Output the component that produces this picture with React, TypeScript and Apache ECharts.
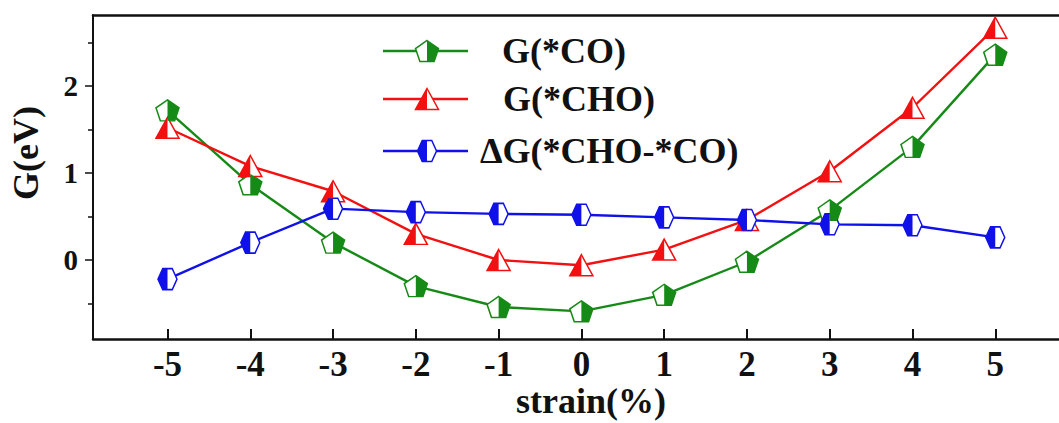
import React, { useEffect, useRef } from "react";
import * as echarts from "echarts";

const strain = [-5, -4, -3, -2, -1, 0, 1, 2, 3, 4, 5];
const gCO = [1.72, 0.87, 0.2, -0.3, -0.54, -0.59, -0.4, -0.02, 0.57, 1.3, 2.36];
const gCHO = [1.52, 1.08, 0.79, 0.3, 0.0, -0.06, 0.12, 0.46, 1.02, 1.75, 2.67];
const dG = [-0.22, 0.2, 0.59, 0.55, 0.53, 0.52, 0.49, 0.46, 0.41, 0.4, 0.26];

const majorY = [0, 1, 2];
const minorY = [-0.5, 0.5, 1.5, 2.5];
const xTicks = [-5, -4, -3, -2, -1, 0, 1, 2, 3, 4, 5];

const seriesNames = ["G(*CO)", "G(*CHO)", "\u0394G(*CHO-*CO)"];

type Pt = [number, number];
const pentFull: Pt[] = [[0, -1], [0.951, -0.309], [0.588, 0.809], [-0.588, 0.809], [-0.951, -0.309]];
const pentRight: Pt[] = [[0, -1], [0.951, -0.309], [0.588, 0.809], [0, 0.809]];
const triFull: Pt[] = [[0, -1], [1, 1], [-1, 1]];
const triLeft: Pt[] = [[0, -1], [0, 1], [-1, 1]];
const hexFull: Pt[] = [[-1, 0], [-0.5, -0.866], [0.5, -0.866], [1, 0], [0.5, 0.866], [-0.5, 0.866]];
const hexLeft: Pt[] = [[-1, 0], [-0.5, -0.866], [0, -0.866], [0, 0.866], [-0.5, 0.866]];

function bbox(s: Pt[]) {
  const xs = s.map((p) => p[0]);
  const ys = s.map((p) => p[1]);
  return { x0: Math.min(...xs), x1: Math.max(...xs), y0: Math.min(...ys), y1: Math.max(...ys) };
}
function toPath(s: Pt[]) {
  return (
    "path://" +
    s.map((p, i) => (i === 0 ? "M" : "L") + ((p[0] + 1) * 10).toFixed(2) + "," + ((p[1] + 1) * 10).toFixed(2)).join(" ") +
    " Z"
  );
}
function halfSymbol(full: Pt[], half: Pt[], W: number, H: number) {
  const f = bbox(full);
  const h = bbox(half);
  const fw = f.x1 - f.x0;
  const fh = f.y1 - f.y0;
  return {
    size: [(W * (h.x1 - h.x0)) / fw, (H * (h.y1 - h.y0)) / fh],
    offset: [(((h.x0 + h.x1) / 2 - (f.x0 + f.x1) / 2) / fw) * W, (((h.y0 + h.y1) / 2 - (f.y0 + f.y1) / 2) / fh) * H],
  };
}
function fitPts(s: Pt[], full: Pt[], cx: number, cy: number, W: number, H: number) {
  const f = bbox(full);
  const fw = f.x1 - f.x0;
  const fh = f.y1 - f.y0;
  return s.map((p) => [cx + ((p[0] - (f.x0 + f.x1) / 2) / fw) * W, cy + ((p[1] - (f.y0 + f.y1) / 2) / fh) * H]);
}

const FONT = "'Liberation Serif', 'Times New Roman', serif";

const defs = [
  { name: seriesNames[0], data: gCO, color: "#168a16", full: pentFull, half: pentRight, W: 23, H: 21 },
  { name: seriesNames[1], data: gCHO, color: "#f21010", full: triFull, half: triLeft, W: 23, H: 21 },
  { name: seriesNames[2], data: dG, color: "#1010e8", full: hexFull, half: hexLeft, W: 19, H: 21 },
];

export default function App() {
  const ref = useRef<HTMLDivElement>(null);
  useEffect(() => {
    if (!ref.current) return;
    const chart = echarts.init(ref.current, undefined, { renderer: "svg" });
    const series: any[] = [];
    defs.forEach((d) => {
      const pts = strain.map((x, i) => [x, d.data[i]]);
      series.push({
        name: d.name,
        type: "line",
        data: pts,
        symbol: toPath(d.full),
        symbolSize: [d.W, d.H],
        lineStyle: { color: d.color, width: 2.4 },
        itemStyle: { color: "#ffffff", borderColor: d.color, borderWidth: 1.5 },
        z: 3,
        clip: false,
      });
      const hs = halfSymbol(d.full, d.half, d.W, d.H);
      series.push({
        name: d.name + " fill",
        type: "line",
        data: pts,
        symbol: toPath(d.half),
        symbolSize: hs.size,
        symbolOffset: hs.offset,
        lineStyle: { width: 0, opacity: 0 },
        itemStyle: { color: d.color, borderWidth: 0 },
        z: 4,
        clip: false,
      });
    });

    const graphics: any[] = [];
    const legendY = [51, 99, 151];
    const legendTextX = [502, 503, 480];
    defs.forEach((d, i) => {
      const y = legendY[i];
      graphics.push({ type: "line", shape: { x1: 383, y1: y, x2: 468, y2: y }, style: { stroke: d.color, lineWidth: 2.5 }, z: 10 });
      graphics.push({
        type: "polygon",
        shape: { points: fitPts(d.full, d.full, 427, y, d.W, d.H) },
        style: { fill: "#ffffff", stroke: d.color, lineWidth: 1.5 },
        z: 11,
      });
      graphics.push({
        type: "polygon",
        shape: { points: fitPts(d.half, d.full, 427, y, d.W, d.H) },
        style: { fill: d.color, stroke: "none" },
        z: 12,
      });
      graphics.push({
        type: "text",
        x: legendTextX[i],
        y: y,
        style: { text: d.name, font: `bold 36px ${FONT}`, fill: "#111", align: "left", verticalAlign: "middle" },
        z: 12,
      });
    });
    graphics.push({
      type: "text",
      x: 26,
      y: 153,
      rotation: Math.PI / 2,
      style: { text: "G(eV)", font: `bold 36px ${FONT}`, fill: "#111", align: "center", verticalAlign: "middle" },
    });
    graphics.push({
      type: "text",
      x: 591,
      y: 401,
      style: { text: "strain(%)", font: `bold 36px ${FONT}`, fill: "#111", align: "center", verticalAlign: "middle" },
    });

    chart.setOption({
      animation: false,
      backgroundColor: "#ffffff",
      grid: { left: 93, right: 0, top: 15, bottom: 84, containLabel: false },
      xAxis: [
        {
          type: "value",
          position: "bottom",
          min: -5.9,
          max: 5.77,
          axisLine: { show: true, onZero: false, lineStyle: { color: "#111", width: 2.5 } },
          axisTick: { show: true, inside: true, length: 10, customValues: xTicks, lineStyle: { color: "#111", width: 2 } },
          axisLabel: {
            show: true,
            customValues: xTicks,
            margin: 8,
            color: "#111",
            fontSize: 35,
            fontWeight: "bold",
            fontFamily: FONT,
          },
          splitLine: { show: false },
        },
        {
          type: "value",
          position: "top",
          min: -5.9,
          max: 5.77,
          axisLine: { show: true, onZero: false, lineStyle: { color: "#111", width: 2.5 } },
          axisTick: { show: false },
          axisLabel: { show: false },
          splitLine: { show: false },
        },
      ],
      yAxis: [
        {
          type: "value",
          position: "left",
          min: -0.908,
          max: 2.816,
          axisLine: { show: true, onZero: false, lineStyle: { color: "#111", width: 2 } },
          axisTick: { show: true, inside: false, length: 8, customValues: majorY, lineStyle: { color: "#111", width: 1.5 } },
          axisLabel: {
            show: true,
            customValues: majorY,
            margin: 15,
            color: "#111",
            fontSize: 29,
            fontWeight: "bold",
            fontFamily: FONT,
          },
          splitLine: { show: false },
        },
        {
          type: "value",
          min: -0.908,
          max: 2.816,
          position: "left",
          axisLine: { show: false, onZero: false },
          axisTick: { show: true, inside: false, length: 5, customValues: minorY, lineStyle: { color: "#111", width: 1.5 } },
          axisLabel: { show: false },
          splitLine: { show: false },
        },
      ],
      series,
      graphic: graphics,
    });
    return () => chart.dispose();
  }, []);
  return <div ref={ref} style={{ width: 1059, height: 423, position: "absolute", left: 0, top: 0 }} />;
}
